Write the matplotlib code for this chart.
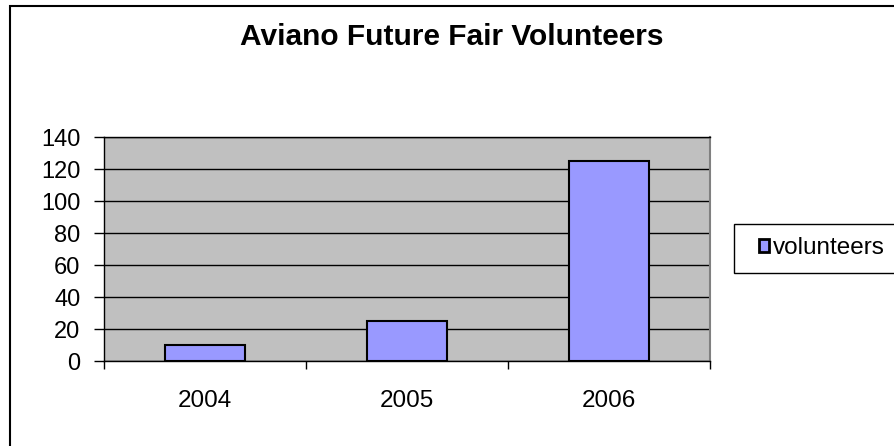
import numpy as np
import matplotlib.pyplot as plt
from matplotlib.patches import Rectangle

plt.rcParams['font.family'] = ['Liberation Sans', 'DejaVu Sans']

years = ['2004', '2005', '2006']
volunteers = [10, 25, 125]
y_ticks = [0, 20, 40, 60, 80, 100, 120, 140]

W, H = 895, 446
fig = plt.figure(figsize=(W / 100, H / 100), dpi=100)
fig.patch.set_facecolor('white')

# outer chart border (runs off right and bottom edges)
fig.patches.append(Rectangle((10 / W, -0.05), 1.1, 1 - 6 / H + 0.05,
                             transform=fig.transFigure, fill=False,
                             edgecolor='black', linewidth=1.5))

left, right, top, bottom = 104, 710, 137, 361
ax = fig.add_axes([left / W, (H - bottom) / H, (right - left) / W, (bottom - top) / H])
ax.set_facecolor('#C0C0C0')

x = np.arange(len(years))
ax.bar(x, volunteers, width=0.4, color='#9999FF', edgecolor='black',
       linewidth=1.5, label='volunteers', zorder=3)

ax.set_xlim(-0.5, 2.5)
ax.set_ylim(0, 140)
ax.set_yticks(y_ticks)
ax.yaxis.grid(True, color='black', linewidth=1, zorder=1)
ax.set_axisbelow(True)

ax.set_xticks(x)
ax.set_xticklabels(years)
ax.set_xticks([-0.5, 0.5, 1.5, 2.5], minor=True)
ax.tick_params(axis='x', which='major', length=0, pad=21, labelsize=17.5)
ax.tick_params(axis='x', which='minor', length=6, width=1, direction='out')
ax.tick_params(axis='y', length=7, width=1, direction='out', pad=10, labelsize=17)

for s in ['left', 'bottom', 'top']:
    ax.spines[s].set_color('black')
    ax.spines[s].set_linewidth(1)
ax.spines['right'].set_color('#808080')
ax.spines['right'].set_linewidth(1.5)

fig.text(452 / W, 1 - 45 / H, 'Aviano Future Fair Volunteers', ha='center', va='baseline',
         fontsize=21.5, fontweight='bold')

# legend box (runs off the right edge)
fig.patches.append(Rectangle((734 / W, (H - 273) / H), 0.5, 49 / H,
                             transform=fig.transFigure, facecolor='white',
                             edgecolor='black', linewidth=1))
leg = fig.legend(loc='center left', bbox_to_anchor=(759 / W, (H - 248) / H),
                 fontsize=17.5, frameon=False, handlelength=0.42, handleheight=0.42,
                 handletextpad=0.15, borderpad=0, borderaxespad=0)
for h in leg.legend_handles:
    h.set_linewidth(2)

fig.savefig('out.png', dpi=100)
